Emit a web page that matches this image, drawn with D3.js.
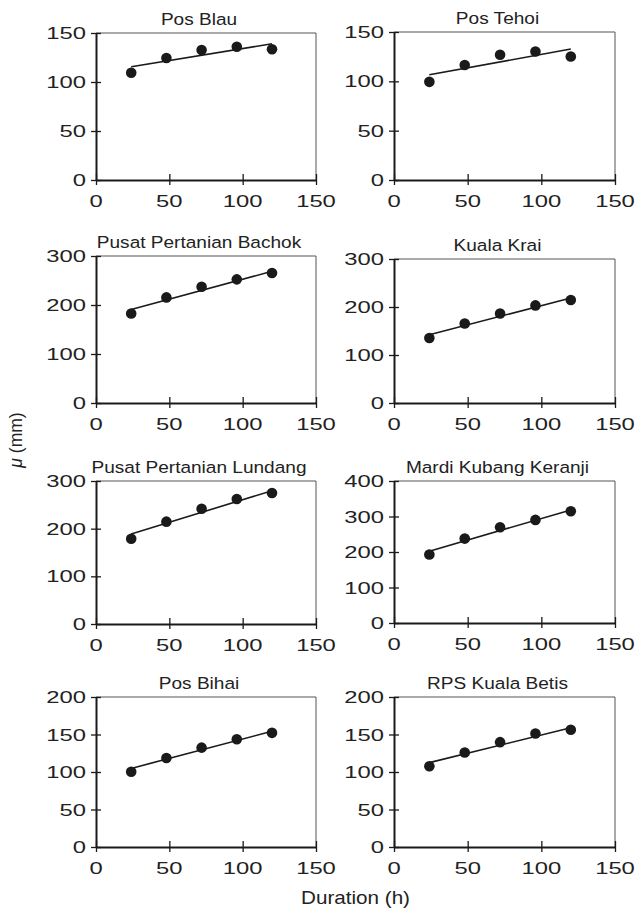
<!DOCTYPE html>
<html><head><meta charset="utf-8">
<script src="https://cdn.jsdelivr.net/npm/d3@7"></script>
<style>body{margin:0;background:#fff}svg{display:block}</style>
</head><body><svg id="c" width="644" height="915"></svg>
<script>
// ---- data ----
const hours = [24, 48, 72, 96, 120];
const stationNames = ["Pos Blau", "Pos Tehoi", "Pusat Pertanian Bachok", "Kuala Krai",
  "Pusat Pertanian Lundang", "Mardi Kubang Keranji", "Pos Bihai", "RPS Kuala Betis"];
const posBlau = [109.5, 124.5, 132.7, 136.0, 133.4];
const posTehoi = [99.5, 116.5, 127.0, 130.3, 125.2];
const bachok = [182.8, 215.5, 237.2, 252.3, 265.2];
const kualaKrai = [135.4, 165.5, 186.5, 203.3, 214.5];
const lundang = [179.0, 214.7, 241.9, 262.2, 274.8];
const kubangKeranji = [192.8, 237.8, 269.8, 290.4, 314.8];
const posBihai = [100.4, 118.7, 132.5, 143.6, 152.2];
const kualaBetis = [107.7, 126.0, 139.8, 151.4, 156.3];
const fitAt24 = [115.6, 106.6, 191.0, 142.3, 188.8, 202.4, 104.8, 112.5];
const fitAt120 = [139.0, 132.7, 268.7, 218.7, 279.7, 318.5, 154.3, 159.0];
const yMax = [150, 150, 300, 300, 300, 400, 200, 200];
const yStep = [50, 50, 100, 100, 100, 100, 50, 50];
const xTicks = [0, 50, 100, 150];
const xLabel = "Duration (h)";
const yLabelSymbol = "\u03bc";
const yLabelUnit = " (mm)";

const seriesList = [posBlau, posTehoi, bachok, kualaKrai, lundang, kubangKeranji, posBihai, kualaBetis];

// ---- layout ----
const colX = [[96, 316], [394, 615]];
const rowY = [
  [[33, 180], [32, 180]],
  [[256, 403], [259, 403]],
  [[481, 624], [481, 623]],
  [[697, 847], [697, 847]]
];
const FONT = "'Liberation Sans', Arial, Helvetica, sans-serif";
const INK = "#1a1a1a";
const TXT = "#222";
const tickScaleX = 1.4;
const titleScaleX = 1.17;

const svg = d3.select("#c");
svg.append("rect").attr("width", 644).attr("height", 915).attr("fill", "#fff");

seriesList.forEach((vals, i) => {
  const col = i % 2, row = Math.floor(i / 2);
  const [x0, x1] = colX[col];
  const [y0, y1] = rowY[row][col];
  const x = d3.scaleLinear().domain([0, 150]).range([x0, x1]);
  const y = d3.scaleLinear().domain([0, yMax[i]]).range([y1, y0]);
  const yTicks = d3.range(0, yMax[i] + 1, yStep[i]);
  const g = svg.append("g");

  // top/right frame
  g.append("line").attr("x1", x0).attr("x2", x1).attr("y1", y0).attr("y2", y0)
    .attr("stroke", "#555").attr("stroke-width", 1);
  g.append("line").attr("x1", x1).attr("x2", x1).attr("y1", y0).attr("y2", y1)
    .attr("stroke", "#555").attr("stroke-width", 1);

  // axes via d3
  const ax = g.append("g").attr("transform", `translate(0,${y1})`)
    .call(d3.axisBottom(x).tickValues(xTicks).tickSize(5).tickSizeOuter(0).tickFormat(""));
  ax.select(".domain").attr("stroke", INK).attr("stroke-width", 2);
  ax.selectAll(".tick line").attr("y1", -6).attr("stroke", INK).attr("stroke-width", 1.3);

  const ay = g.append("g").attr("transform", `translate(${x0},0)`)
    .call(d3.axisLeft(y).tickValues(yTicks).tickSize(5).tickSizeOuter(0).tickFormat(""));
  ay.select(".domain").attr("stroke", INK).attr("stroke-width", 2);
  ay.selectAll(".tick line").attr("x1", 5).attr("stroke", INK).attr("stroke-width", 1.3);

  // tick labels
  g.selectAll(".xl").data(xTicks).join("text")
    .attr("transform", d => `translate(${x(d)},${y1 + 27}) scale(${tickScaleX},1)`)
    .attr("text-anchor", "middle").attr("font-family", FONT).attr("font-size", 17)
    .attr("fill", TXT).text(d => d);
  g.selectAll(".yl").data(yTicks).join("text")
    .attr("transform", d => `translate(${x0 - 10},${y(d) + 6}) scale(${tickScaleX},1)`)
    .attr("text-anchor", "end").attr("font-family", FONT).attr("font-size", 17)
    .attr("fill", TXT).text(d => d);

  // title
  g.append("text")
    .attr("transform", `translate(${(x0 + x1) / 2 - 7},${y0 - 8}) scale(${titleScaleX},1)`)
    .attr("text-anchor", "middle").attr("font-family", FONT).attr("font-size", 16.3)
    .attr("fill", TXT).text(stationNames[i]);

  // fitted line
  g.append("line")
    .attr("x1", x(hours[0])).attr("y1", y(fitAt24[i]))
    .attr("x2", x(hours[hours.length - 1])).attr("y2", y(fitAt120[i]))
    .attr("stroke", INK).attr("stroke-width", 1.6);

  // points
  g.selectAll("circle").data(vals).join("circle")
    .attr("cx", (d, k) => x(hours[k])).attr("cy", d => y(d))
    .attr("r", 5.3).attr("fill", INK);
});

// axis titles
svg.append("text")
  .attr("transform", `translate(${(96 + 615) / 2},904) scale(1.18,1)`)
  .attr("text-anchor", "middle").attr("font-family", FONT).attr("font-size", 17.5)
  .attr("fill", TXT).text(xLabel);

const yl = svg.append("text")
  .attr("transform", "translate(22,440) rotate(-90)")
  .attr("text-anchor", "middle").attr("font-family", FONT).attr("font-size", 17.5)
  .attr("fill", TXT);
yl.append("tspan").attr("font-style", "italic").text(yLabelSymbol);
yl.append("tspan").text(yLabelUnit);
</script>
</body></html>
